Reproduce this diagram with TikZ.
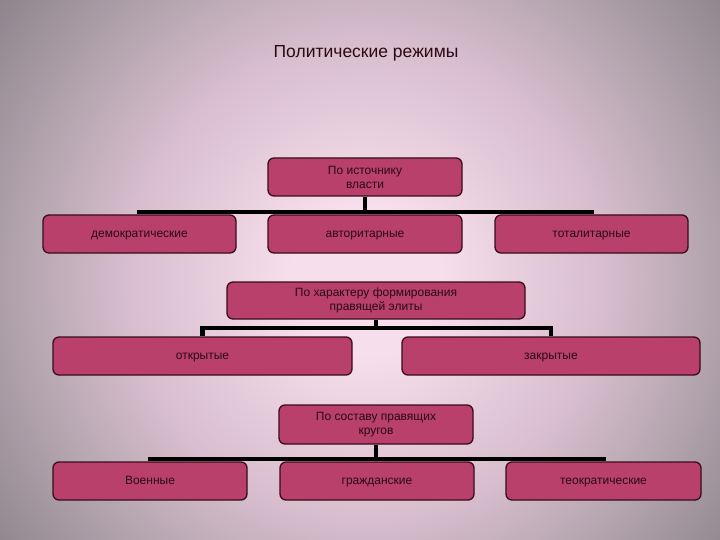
\documentclass[tikz,border=0pt]{standalone}
\usepackage{fontspec}
\setmainfont{Liberation Sans}
\definecolor{bgc1}{HTML}{F7DEEC}
\definecolor{bgc2}{HTML}{D6BCCC}
\definecolor{bgc3}{HTML}{B8A8B2}
\definecolor{bgc4}{HTML}{8E848C}
\definecolor{boxc}{HTML}{B8406A}
\definecolor{boxline}{HTML}{3A0C1C}
\definecolor{txtc}{HTML}{2A0A14}
\pgfdeclareradialshading{bgshade}{\pgfpoint{0bp}{0bp}}{color(0bp)=(bgc1); color(4bp)=(bgc1); color(13bp)=(bgc2); color(17.5bp)=(bgc3); color(24.5bp)=(bgc4); color(50bp)=(bgc4)}
\tikzset{
  rbox/.style={draw=boxline, line width=1.3pt, fill=boxc, rounded corners=6pt,
    text=txtc, font=\fontsize{12}{14}\selectfont, align=center, inner sep=2pt},
  onebox/.style={rbox, text height=8.5pt, text depth=2.5pt},
  conn/.style={line width=4.5pt, draw=black, line join=miter, line cap=butt},
}
\begin{document}
\begin{tikzpicture}[x=1pt,y=-1pt]
\useasboundingbox (0,0) rectangle (720,540);
\begin{scope}
\clip (0,0) rectangle (720,540);
\shade[shading=bgshade] (365,280) circle (470);
\end{scope}

\node[text=txtc, font=\fontsize{17.5}{20}\selectfont] (title) at (366,53) {Политические режимы};

% level 1
\node[rbox, minimum width=194pt, minimum height=38pt] (src) at (365,177) {По источнику\\власти};
\node[onebox, minimum width=193pt, minimum height=38pt] (dem) at (139.5,234) {демократические};
\node[onebox, minimum width=194pt, minimum height=38pt] (aut) at (365,234) {авторитарные};
\node[onebox, minimum width=193pt, minimum height=38pt] (tot) at (591.5,234) {тоталитарные};
\coordinate (b1) at (365,212);
\draw[conn] (src.south) -- (src.south |- b1);
\draw[conn] (dem.north) -- (dem.north |- b1) -- (tot.north |- b1) -- (tot.north);

% level 2
\node[rbox, minimum width=298pt, minimum height=37pt] (form) at (376,300.5) {По характеру формирования\\правящей элиты};
\node[onebox, minimum width=299pt, minimum height=38pt] (open) at (202.5,356) {открытые};
\node[onebox, minimum width=298pt, minimum height=38pt] (closed) at (551,356) {закрытые};
\coordinate (b2) at (376,328);
\draw[conn] (form.south) -- (form.south |- b2);
\draw[conn] (open.north) -- (open.north |- b2) -- (closed.north |- b2) -- (closed.north);

% level 3
\node[rbox, minimum width=194pt, minimum height=39pt] (comp) at (376,424.5) {По составу правящих\\кругов};
\node[onebox, minimum width=194pt, minimum height=38pt] (mil) at (150,481) {Военные};
\node[onebox, minimum width=194pt, minimum height=38pt] (civ) at (377,481) {гражданские};
\node[onebox, minimum width=195pt, minimum height=38pt] (theo) at (603.5,481) {теократические};
\coordinate (b3) at (376,459);
\draw[conn] (comp.south) -- (comp.south |- b3);
\draw[conn] (mil.north) -- (mil.north |- b3) -- (theo.north |- b3) -- (theo.north);
\end{tikzpicture}
\end{document}
